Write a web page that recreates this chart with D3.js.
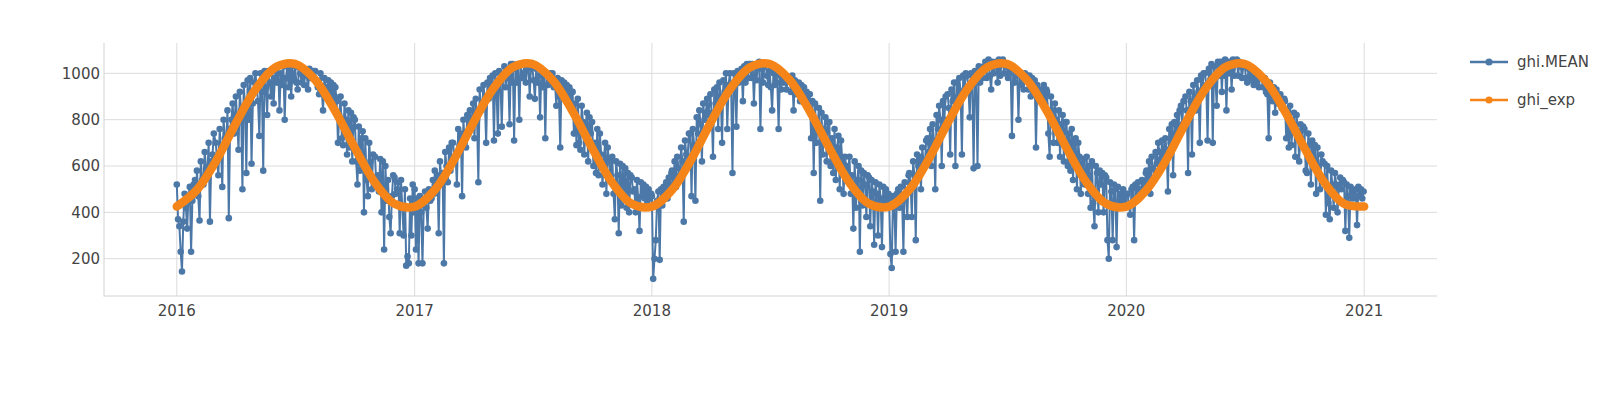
<!DOCTYPE html>
<html>
<head>
<meta charset="utf-8">
<script src="https://cdn.jsdelivr.net/npm/d3@7"></script>
<style>
  body { margin: 0; background: #fff; }
  text { font-family: "DejaVu Sans", sans-serif; }
</style>
</head>
<body>
<svg id="canvas" width="1600" height="398"></svg>
<script>
// ghi.MEAN: one row per month (Jan..Dec),
// one value every 2 days starting on the 1st of the month
var ghiMean2016 = [
  [520, 370, 340, 230, 145, 360, 480, 420, 330, 470, 510, 230, 450, 520, 540, 480],
  [580, 470, 365, 620, 540, 520, 660, 590, 560, 700, 360, 620, 650, 740],
  [700, 620, 560, 760, 680, 510, 800, 720, 690, 840, 375, 760, 800, 870, 740],
  [900, 780, 670, 920, 840, 500, 950, 860, 570, 970, 800, 980, 610, 870, 960],
  [1000, 940, 880, 730, 1000, 920, 580, 1010, 940, 820, 1010, 960, 900, 1010, 870, 980],
  [1020, 960, 1030, 840, 1000, 950, 1030, 800, 980, 1030, 940, 1020, 900, 1000, 970],
  [1030, 960, 930, 1025, 1000, 960, 1010, 950, 1015, 990, 930, 1020, 980, 990, 1010],
  [1010, 960, 940, 910, 1000, 930, 840, 980, 940, 930, 970, 900, 960, 880, 950, 900],
  [940, 880, 700, 820, 900, 720, 690, 870, 800, 650, 840, 680, 830, 620, 810],
  [800, 620, 520, 770, 580, 720, 750, 400, 720, 540, 470, 700, 620, 500, 650],
  [640, 520, 560, 490, 630, 400, 620, 240, 600, 450, 540, 380, 310, 470, 560],
  [550, 480, 500, 530, 310, 540, 420, 300, 500, 170, 210, 180, 460, 300, 520, 400]
];
var ghiMean2017 = [
  [500, 240, 460, 180, 470, 400, 180, 430, 490, 420, 330, 500, 450, 460, 540, 480],
  [580, 520, 560, 310, 620, 540, 570, 180, 660, 600, 530, 680, 580, 700],
  [700, 640, 640, 520, 760, 690, 740, 470, 800, 700, 680, 820, 740, 840, 760],
  [870, 720, 890, 800, 530, 930, 840, 860, 950, 880, 700, 960, 890, 980, 920],
  [990, 710, 1000, 920, 740, 1010, 960, 770, 990, 1030, 940, 1020, 980, 780, 1040, 960],
  [1040, 710, 1020, 960, 1040, 800, 1040, 980, 1000, 1040, 960, 1020, 1030, 900, 1030],
  [1030, 970, 890, 1020, 960, 990, 810, 1010, 940, 1010, 720, 1000, 950, 980, 1000],
  [1000, 940, 950, 860, 980, 900, 680, 970, 910, 960, 900, 950, 880, 940, 870, 920],
  [920, 740, 870, 690, 890, 700, 670, 860, 790, 650, 780, 830, 620, 810, 740],
  [790, 600, 700, 570, 760, 560, 740, 650, 520, 620, 700, 480, 680, 620, 560],
  [640, 480, 370, 620, 560, 310, 610, 430, 600, 480, 590, 420, 570, 400, 560],
  [550, 490, 500, 400, 540, 460, 320, 530, 470, 520, 460, 510, 440, 500, 460, 480]
];
var ghiMean2018 = [
  [470, 113, 200, 280, 450, 490, 195, 500, 430, 510, 470, 530, 460, 550, 490, 570],
  [580, 520, 620, 510, 640, 590, 560, 680, 620, 360, 710, 650, 640, 740],
  [740, 470, 760, 690, 450, 810, 740, 840, 780, 620, 870, 800, 830, 890, 820],
  [910, 830, 640, 930, 870, 940, 760, 960, 900, 700, 970, 920, 1000, 760, 950],
  [1000, 930, 570, 1000, 950, 770, 1010, 960, 1000, 1020, 880, 1030, 960, 1040, 980, 1040],
  [1040, 980, 1040, 870, 1030, 970, 1040, 1050, 760, 1020, 960, 1030, 1040, 990, 950],
  [1010, 940, 840, 1000, 950, 1000, 960, 760, 990, 930, 1000, 960, 990, 930, 970],
  [980, 920, 990, 840, 970, 910, 950, 960, 880, 950, 880, 940, 900, 920, 860, 910],
  [910, 720, 880, 570, 870, 700, 780, 850, 450, 830, 650, 760, 810, 620, 790],
  [790, 600, 720, 570, 760, 540, 680, 730, 500, 710, 620, 480, 640, 600, 560],
  [640, 480, 560, 330, 620, 420, 540, 600, 230, 580, 430, 570, 520, 380, 560],
  [550, 340, 540, 490, 260, 530, 480, 300, 520, 460, 250, 510, 450, 500, 430, 480]
];
var ghiMean2019 = [
  [460, 220, 160, 470, 420, 230, 480, 500, 420, 510, 450, 230, 530, 480, 380, 560],
  [570, 520, 380, 620, 560, 280, 650, 600, 640, 500, 680, 620, 600, 710],
  [720, 660, 760, 600, 780, 710, 500, 820, 760, 860, 800, 600, 880, 800, 900],
  [910, 850, 650, 930, 880, 960, 600, 960, 900, 980, 920, 650, 990, 930, 1000],
  [990, 940, 810, 1000, 950, 590, 1010, 960, 600, 1030, 960, 1020, 980, 1030, 1050, 980],
  [1040, 1060, 990, 930, 1050, 1000, 1030, 1050, 960, 1060, 990, 1040, 1060, 1000, 1040],
  [1030, 980, 1000, 1020, 730, 1020, 960, 990, 1010, 800, 1000, 950, 990, 930, 1000],
  [990, 930, 990, 900, 980, 920, 970, 680, 950, 900, 900, 930, 880, 950, 870, 930],
  [920, 740, 640, 900, 840, 700, 870, 800, 700, 840, 640, 780, 820, 620, 790],
  [790, 600, 740, 580, 760, 540, 700, 720, 500, 700, 640, 480, 610, 630, 520],
  [640, 480, 600, 420, 620, 440, 340, 600, 570, 400, 580, 520, 570, 400, 560],
  [550, 280, 200, 530, 490, 280, 520, 500, 250, 510, 440, 480, 460, 500, 450, 480]
];
var ghiMean2020 = [
  [470, 480, 430, 390, 500, 510, 280, 520, 450, 530, 500, 470, 540, 490, 520, 570],
  [580, 540, 620, 480, 640, 590, 540, 660, 610, 700, 660, 630, 710, 650],
  [720, 670, 490, 760, 700, 780, 560, 790, 740, 820, 760, 840, 860, 780, 880],
  [900, 840, 570, 920, 880, 650, 950, 900, 840, 970, 920, 700, 990, 930, 1000],
  [1000, 950, 710, 1020, 970, 1040, 700, 1030, 980, 860, 1050, 990, 1050, 920, 1050, 990],
  [1060, 840, 1050, 1000, 1050, 930, 1060, 990, 1050, 1060, 990, 1050, 1030, 980, 1030],
  [1040, 980, 960, 1020, 970, 1010, 990, 950, 1010, 960, 1000, 940, 990, 980, 940],
  [980, 920, 910, 720, 960, 900, 880, 940, 830, 930, 870, 900, 910, 850, 880, 890],
  [880, 720, 840, 680, 860, 690, 780, 830, 640, 820, 750, 620, 780, 720, 770],
  [760, 580, 570, 740, 690, 520, 710, 620, 690, 480, 680, 600, 500, 650, 620],
  [610, 390, 600, 440, 370, 580, 520, 420, 570, 520, 400, 510, 550, 500, 540],
  [530, 320, 520, 470, 290, 510, 490, 460, 470, 500, 345, 510, 470, 500, 460, 490]
];
var meanYears = [2016, 2017, 2018, 2019, 2020];
var stepDays = 2;

// ghi_exp on the 1st of every month, Jan 2016 .. Jan 2021
var ghiExp = [
  425, 497, 620, 785, 930, 1026, 1041, 972, 836, 678, 528, 437,
  425, 497, 620, 785, 930, 1026, 1041, 972, 836, 678, 528, 437,
  425, 497, 620, 785, 930, 1026, 1041, 972, 836, 678, 528, 437,
  425, 497, 620, 785, 930, 1026, 1041, 972, 836, 678, 528, 437,
  425, 497, 620, 785, 930, 1026, 1041, 972, 836, 678, 528, 437,
  425
];

var yTicks = [200, 400, 600, 800, 1000];
var xTickYears = [2016, 2017, 2018, 2019, 2020, 2021];
var seriesNames = ['ghi.MEAN', 'ghi_exp'];
var colors = ['#4c78a8', '#f58518'];

var plot = { left: 104, right: 1437, top: 43, bottom: 296 };

var svg = d3.select('#canvas');

var x = d3.scaleUtc()
  .domain([new Date(Date.UTC(2015, 8, 11)), new Date(Date.UTC(2021, 3, 23))])
  .range([plot.left, plot.right]);
var y = d3.scaleLinear()
  .domain([39, 1131])
  .range([plot.bottom, plot.top]);

// build the point lists
var meanArrays = [ghiMean2016, ghiMean2017, ghiMean2018, ghiMean2019, ghiMean2020];
var meanData = [];
meanArrays.forEach(function (months, k) {
  months.forEach(function (vals, m) {
    vals.forEach(function (v, i) {
      meanData.push({ date: new Date(Date.UTC(meanYears[k], m, 1 + i * stepDays)), value: v });
    });
  });
});
var expData = ghiExp.map(function (v, i) {
  return { date: new Date(Date.UTC(2016, i, 1)), value: v };
});

// grid
var grid = svg.append('g');
grid.selectAll('line.h').data(yTicks).enter().append('line')
  .attr('x1', plot.left).attr('x2', plot.right)
  .attr('y1', function (d) { return y(d); }).attr('y2', function (d) { return y(d); })
  .attr('stroke', '#dcdcdc').attr('stroke-width', 1);
grid.selectAll('line.v').data(xTickYears).enter().append('line')
  .attr('x1', function (d) { return x(new Date(Date.UTC(d, 0, 1))); })
  .attr('x2', function (d) { return x(new Date(Date.UTC(d, 0, 1))); })
  .attr('y1', plot.top).attr('y2', plot.bottom)
  .attr('stroke', '#dcdcdc').attr('stroke-width', 1);

// axis lines (left + bottom only)
svg.append('line').attr('x1', plot.left).attr('x2', plot.left)
  .attr('y1', plot.top).attr('y2', plot.bottom + 0.5)
  .attr('stroke', '#d2d2d2').attr('stroke-width', 1);
svg.append('line').attr('x1', plot.left).attr('x2', plot.right)
  .attr('y1', plot.bottom).attr('y2', plot.bottom)
  .attr('stroke', '#d2d2d2').attr('stroke-width', 1);

// tick labels
svg.append('g').selectAll('text').data(yTicks).enter().append('text')
  .attr('x', 100).attr('y', function (d) { return y(d); })
  .attr('dy', '0.36em').attr('text-anchor', 'end')
  .attr('font-size', 15).attr('fill', '#444')
  .text(function (d) { return d; });
svg.append('g').selectAll('text').data(xTickYears).enter().append('text')
  .attr('x', function (d) { return x(new Date(Date.UTC(d, 0, 1))); })
  .attr('y', 316).attr('text-anchor', 'middle')
  .attr('font-size', 15).attr('fill', '#444')
  .text(function (d) { return d; });

// ghi.MEAN: line + markers
var line = d3.line()
  .x(function (d) { return x(d.date); })
  .y(function (d) { return y(d.value); });

svg.append('path').datum(meanData)
  .attr('d', line)
  .attr('fill', 'none').attr('stroke', colors[0])
  .attr('stroke-width', 2).attr('stroke-linejoin', 'round');
svg.append('g').selectAll('circle').data(meanData).enter().append('circle')
  .attr('cx', function (d) { return x(d.date); })
  .attr('cy', function (d) { return y(d.value); })
  .attr('r', 3.3).attr('fill', colors[0]);

// ghi_exp: the dense markers read as one thick band
var smooth = d3.line()
  .x(function (d) { return x(d.date); })
  .y(function (d) { return y(d.value); })
  .curve(d3.curveCatmullRom.alpha(0.5));
svg.append('path').datum(expData)
  .attr('d', smooth)
  .attr('fill', 'none').attr('stroke', colors[1])
  .attr('stroke-width', 8.5)
  .attr('stroke-linecap', 'round').attr('stroke-linejoin', 'round');

// legend
var legend = svg.append('g');
seriesNames.forEach(function (name, i) {
  var ly = 62 + i * 38;
  legend.append('line').attr('x1', 1470).attr('x2', 1508)
    .attr('y1', ly).attr('y2', ly)
    .attr('stroke', colors[i]).attr('stroke-width', 2.5);
  legend.append('circle').attr('cx', 1489).attr('cy', ly).attr('r', 3.6)
    .attr('fill', colors[i]);
  legend.append('text').attr('x', 1517).attr('y', ly).attr('dy', '0.36em')
    .attr('font-size', 15).attr('fill', '#444').text(name);
});
</script>
</body>
</html>
